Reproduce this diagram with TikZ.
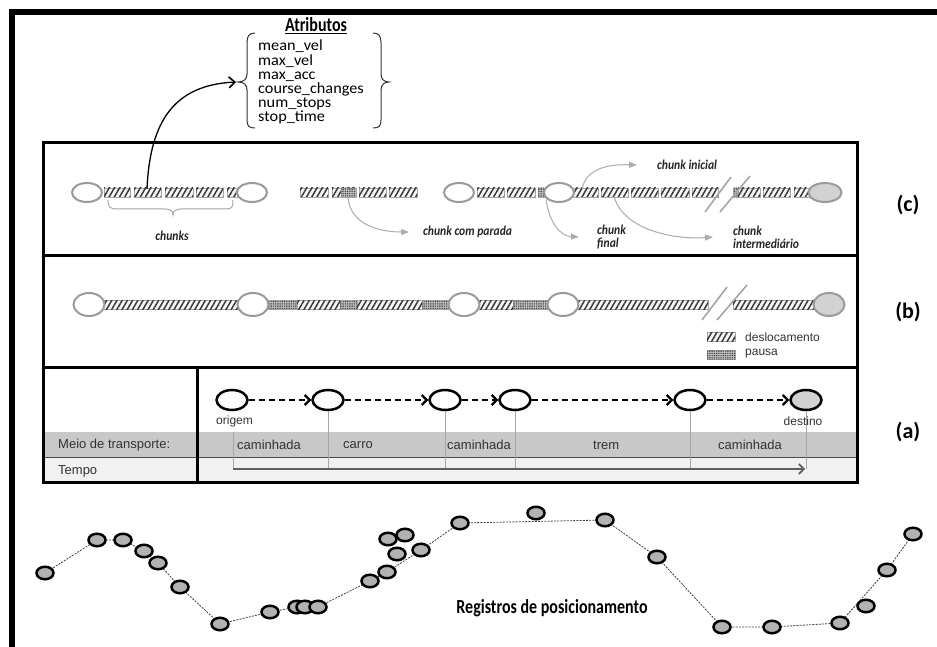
\documentclass[tikz,border=0pt]{standalone}
\usepackage{fontspec}
\setmainfont{Carlito}
\newfontfamily\arialf{Liberation Sans}
\newfontfamily\calnar[FakeStretch=0.8]{Carlito}
\newfontfamily\calmid[FakeStretch=0.86]{Carlito}
\newfontfamily\calwide[FakeStretch=1.05]{Carlito}
\usetikzlibrary{shapes.geometric,arrows.meta,patterns.meta}
\definecolor{cgray}{HTML}{9A9A9A}
\definecolor{bandgray}{HTML}{C8C8C8}
\definecolor{tempogray}{HTML}{F1F1F1}
\tikzset{
 ccirc/.style={ellipse, draw=cgray, line width=2pt, fill=white, minimum width=30pt, minimum height=19pt, inner sep=0pt},
 bcirc/.style={ellipse, draw=cgray, line width=2pt, fill=white, minimum width=31pt, minimum height=23pt, inner sep=0pt},
 acirc/.style={ellipse, draw=black, line width=2.5pt, fill=white, minimum width=31pt, minimum height=20pt, inner sep=0pt},
 rec/.style={ellipse, draw=black, line width=2.5pt, fill=gray!60, minimum width=17pt, minimum height=12.5pt, inner sep=0pt},
 hatchbox/.style={draw=gray!70, line width=0.6pt, fill=gray!6, postaction={pattern color=gray!45!black, pattern={Lines[angle=60,distance=4.5pt,line width=1.5pt]}}},
 stipbox/.style={draw=gray!70, line width=0.6pt, fill=gray!45, postaction={pattern color=black!80, pattern={Dots[distance=1.8pt,radius=0.6pt]}}},
 garrow/.style={draw=gray!65, line width=1pt, -{Triangle[length=8pt,width=6pt]}},
 darrow/.style={line width=2.2pt, dash pattern=on 6pt off 4pt, -{Straight Barb[length=5pt,width=10pt,line width=2.2pt]}},
 pline/.style={draw=black!75, line width=0.8pt, dash pattern=on 2pt off 1.2pt},
 lbl/.style={font=\calmid\fontsize{13.5}{13}\selectfont\bfseries\itshape, text=black!85, inner sep=0pt},
 atxt/.style={font=\arialf\fontsize{13}{13}\selectfont, text=black!80, inner sep=0pt},
 rowlbl/.style={font=\bfseries\fontsize{22}{22}\selectfont, inner sep=0pt},
 slash/.style={draw=gray!70, line width=1.6pt},
 vline/.style={draw=gray!70, line width=1pt}
}
\begin{document}
\begin{tikzpicture}[x=1pt,y=-1pt]
\useasboundingbox (0,0) rectangle (937,647);
\fill[white] (0,0) rectangle (937,647);
% outer frame
\draw[line width=6pt] (12,660) -- (12,12) -- (950,12);

% ---------- attributes ----------
\node[font=\calnar\bfseries\fontsize{20}{20}\selectfont, inner sep=0pt] (atit) at (316,26) {\underline{Atributos}};
\node[anchor=north west, align=left, inner sep=0pt, font=\calwide\fontsize{15.5}{14.2}\selectfont] (attr) at (258,40)
 {mean\_vel\\max\_vel\\max\_acc\\course\_changes\\num\_stops\\stop\_time};
\draw[line width=1pt, black!80] (255,33) .. controls (249,33) and (247,36) .. (247,43) -- (247,74) .. controls (247,79) and (244,82) .. (238,82) .. controls (244,82) and (247,85) .. (247,90) -- (247,120) .. controls (247,126) and (249,128) .. (255,128);
\draw[line width=1pt, black!80] (373,33) .. controls (379,33) and (381,36) .. (381,43) -- (381,74) .. controls (381,79) and (384,82) .. (389,82) .. controls (384,82) and (381,85) .. (381,90) -- (381,120) .. controls (381,126) and (379,128) .. (373,128);
\coordinate (bracetip) at (236,82);

% ---------- main box ----------
\fill[bandgray] (43,432) rectangle (857,457);
\fill[tempogray] (43,457) rectangle (857,482);
\draw[line width=0.8pt, black!70] (43,457) -- (857,457);
\draw[line width=3pt] (43,143) rectangle (857,482);
\draw[line width=3pt] (43,255) -- (857,255);
\draw[line width=3pt] (43,367) -- (857,367);
\draw[line width=3pt] (197,367) -- (197,482);

% ---------- (c) ----------
\path[hatchbox] (104,188) rectangle (130,197);
\path[hatchbox] (134,188) rectangle (161,197);
\path[hatchbox] (165,188) rectangle (193,197);
\path[hatchbox] (196,188) rectangle (223,197);
\path[hatchbox] (227,188) rectangle (240,197);
\path[hatchbox] (300,188) rectangle (328,197);
\path[hatchbox] (332,188) rectangle (356,197);
\path[stipbox] (341,188) rectangle (356,197);
\path[hatchbox] (359,188) rectangle (386,197);
\path[hatchbox] (389,188) rectangle (417,197);
\path[hatchbox] (477,188) rectangle (504,197);
\path[hatchbox] (507,188) rectangle (535,197);
\path[stipbox] (538,188) rectangle (546,197);
\path[hatchbox] (573,188) rectangle (598,197);
\path[hatchbox] (601,188) rectangle (628,197);
\path[hatchbox] (631,188) rectangle (658,197);
\path[hatchbox] (661,188) rectangle (689,197);
\path[hatchbox] (692,188) rectangle (718,197);
\path[stipbox] (733,188) rectangle (738,197);
\path[hatchbox] (738,188) rectangle (760,197);
\path[hatchbox] (763,188) rectangle (790,197);
\path[hatchbox] (794,188) rectangle (812,197);
\node[ccirc] (c1) at (87,192.5) {};
\node[ccirc] (c2) at (252,192.5) {};
\node[ccirc] (c3) at (459,192.5) {};
\node[ccirc] (c4) at (559,192.5) {};
\node[ccirc, fill=gray!35, minimum width=33pt] (c5) at (825,192.5) {};
\draw[slash] (705,212) -- (731,177);
\draw[slash] (720,212) -- (750,176);
% chunks brace
\draw[line width=1pt, gray!70] (108,200) .. controls (108,207) and (110,209) .. (117,209) -- (165,209) .. controls (170,209) and (173,211) .. (173,215) .. controls (173,211) and (176,209) .. (181,209) -- (226,209) .. controls (232,209) and (233,207) .. (233,200);
\node[lbl] (lchunks) at (172,236) {chunks};
\node[lbl, anchor=west] (lparada) at (423,232) {chunk com parada};
\node[lbl, anchor=west] (linicial) at (657,165) {chunk inicial};
\node[lbl, anchor=west, align=left] (lfinal) at (597,237) {chunk\\final};
\node[lbl, anchor=west, align=left] (linter) at (733,237) {chunk\\intermediário};
\coordinate (sp) at (348,197);
\coordinate (sfin) at (546,199);
\coordinate (sini) at (582,189);
\coordinate (sint) at (614,196);
\draw[garrow] (sp) .. controls (350,225) and (380,232) .. ([xshift=-14pt]lparada.west);
\draw[garrow] (sfin) .. controls (549,222) and (560,236) .. ([xshift=-18pt]lfinal.west);
\draw[garrow] (sini) .. controls (586,170) and (605,164) .. ([xshift=-20pt]linicial.west);
\draw[garrow] (sint) .. controls (622,228) and (670,240) .. ([xshift=-20pt]linter.west);
% arrow to attributes
\coordinate (cstart) at (147,189);
\draw[line width=1.3pt, -{Straight Barb[length=6pt,width=11pt,line width=1.6pt]}] (cstart) .. controls (150,120) and (175,85) .. (bracetip);

% ---------- (b) ----------
\path[hatchbox] (100,300) rectangle (240,309);
\path[stipbox] (266,300) rectangle (297,309);
\path[hatchbox] (297,300) rectangle (340,309);
\path[stipbox] (340,300) rectangle (357,309);
\path[hatchbox] (357,300) rectangle (422,309);
\path[stipbox] (422,300) rectangle (450,309);
\path[hatchbox] (478,300) rectangle (513,309);
\path[stipbox] (513,300) rectangle (550,309);
\path[hatchbox] (575,300) rectangle (708,309);
\path[hatchbox] (733,300) rectangle (816,309);
\node[bcirc] (b1) at (89,304.5) {};
\node[bcirc] (b2) at (253,304.5) {};
\node[bcirc] (b3) at (464,304.5) {};
\node[bcirc] (b4) at (563,304.5) {};
\node[bcirc, fill=gray!35] (b5) at (829,304.5) {};
\draw[slash] (702,320) -- (727,287);
\draw[slash] (717,320) -- (747,285);
\path[hatchbox] (707,332) rectangle (735,341);
\path[stipbox] (707,350) rectangle (735,359);
\node[atxt, anchor=west, font=\arialf\fontsize{12}{12}\selectfont] (ldesl) at (745,337) {deslocamento};
\node[atxt, anchor=west, font=\arialf\fontsize{12}{12}\selectfont] (lpausa) at (745,354) {pausa};

% ---------- (a) ----------
\node[acirc] (a1) at (232,400) {};
\node[acirc] (a2) at (328,400) {};
\node[acirc] (a3) at (445,400) {};
\node[acirc] (a4) at (515,400) {};
\node[acirc] (a5) at (690,400) {};
\node[acirc, fill=gray!35] (a6) at (806,400) {};
\draw[darrow] (a1) -- (a2);
\draw[darrow] (a2) -- (a3);
\draw[darrow] (a3) -- (a4);
\draw[darrow] (a4) -- (a5);
\draw[darrow] (a5) -- (a6);
\coordinate (t1) at (233,432);
\coordinate (t0) at (233,469);
\coordinate (tend) at (805,469);
\draw[vline] (t1) -- (t0);
\draw[vline] (a2.south) -- (a2.south |- t0);
\draw[vline] (a3.south) -- (a3.south |- t0);
\draw[vline] (a4.south) -- (a4.south |- t0);
\draw[vline] (a5.south) -- (a5.south |- t0);
\draw[vline] (a6.south) -- (a6.south |- t0);
\draw[draw=gray!75!black, line width=1.6pt, -{Straight Barb[length=5pt,width=10pt,line width=1.6pt]}] (t0) -- (tend);
\node[atxt, anchor=west, font=\arialf\fontsize{12}{12}\selectfont] (lorig) at (216,421) {origem};
\node[atxt, font=\arialf\fontsize{12}{12}\selectfont] (ldest) at (803,421) {destino};
\node[atxt, anchor=west] (lmeio) at (58,445) {Meio de transporte:};
\node[atxt, anchor=west] (ltempo) at (58,471) {Tempo};
\node[atxt, anchor=west] (m1) at (237,445) {caminhada};
\node[atxt, anchor=west] (m2) at (343,445) {carro};
\node[atxt, anchor=west] (m3) at (447,445) {caminhada};
\node[atxt, anchor=west] (m4) at (593,445) {trem};
\node[atxt, anchor=west] (m5) at (718,445) {caminhada};

% row labels
\node[rowlbl] (rc) at (908,205) {(c)};
\node[rowlbl] (rb) at (908,312) {(b)};
\node[rowlbl] (ra) at (908,432) {(a)};

% ---------- positioning records ----------
\foreach \i/\x/\y in {1/45/573, 2/97/540, 3/123/540, 4/144/551, 5/158/563, 6/180/587, 7/220/624, 8/270/612, 9/297/607, 10/305/607, 11/318/607, 12/370/581, 13/387/572, 14/397/554, 15/388/539, 16/405/535, 17/421/550, 18/460/523, 19/536/513, 20/605/520, 21/657/557, 22/722/627, 23/772/627, 24/840/623, 25/866/606, 26/887/570, 27/913/534}
  \coordinate (q\i) at (\x,\y);
\draw[pline] (q1) -- (q2) -- (q3) -- (q4) -- (q5) -- (q6) -- (q7) -- (q8) -- (q9) -- (q11) -- (q12) -- (q13) -- (q17) -- (q18) -- (q20) -- (q21) -- (q22) -- (q23) -- (q24) -- (q26) -- (q27);
\foreach \i in {1,...,27}
  \node[rec] (p\i) at (q\i) {};
\node[font=\calnar\bfseries\fontsize{20}{20}\selectfont, inner sep=0pt] (lreg) at (552,608) {Registros de posicionamento};
\end{tikzpicture}
\end{document}
